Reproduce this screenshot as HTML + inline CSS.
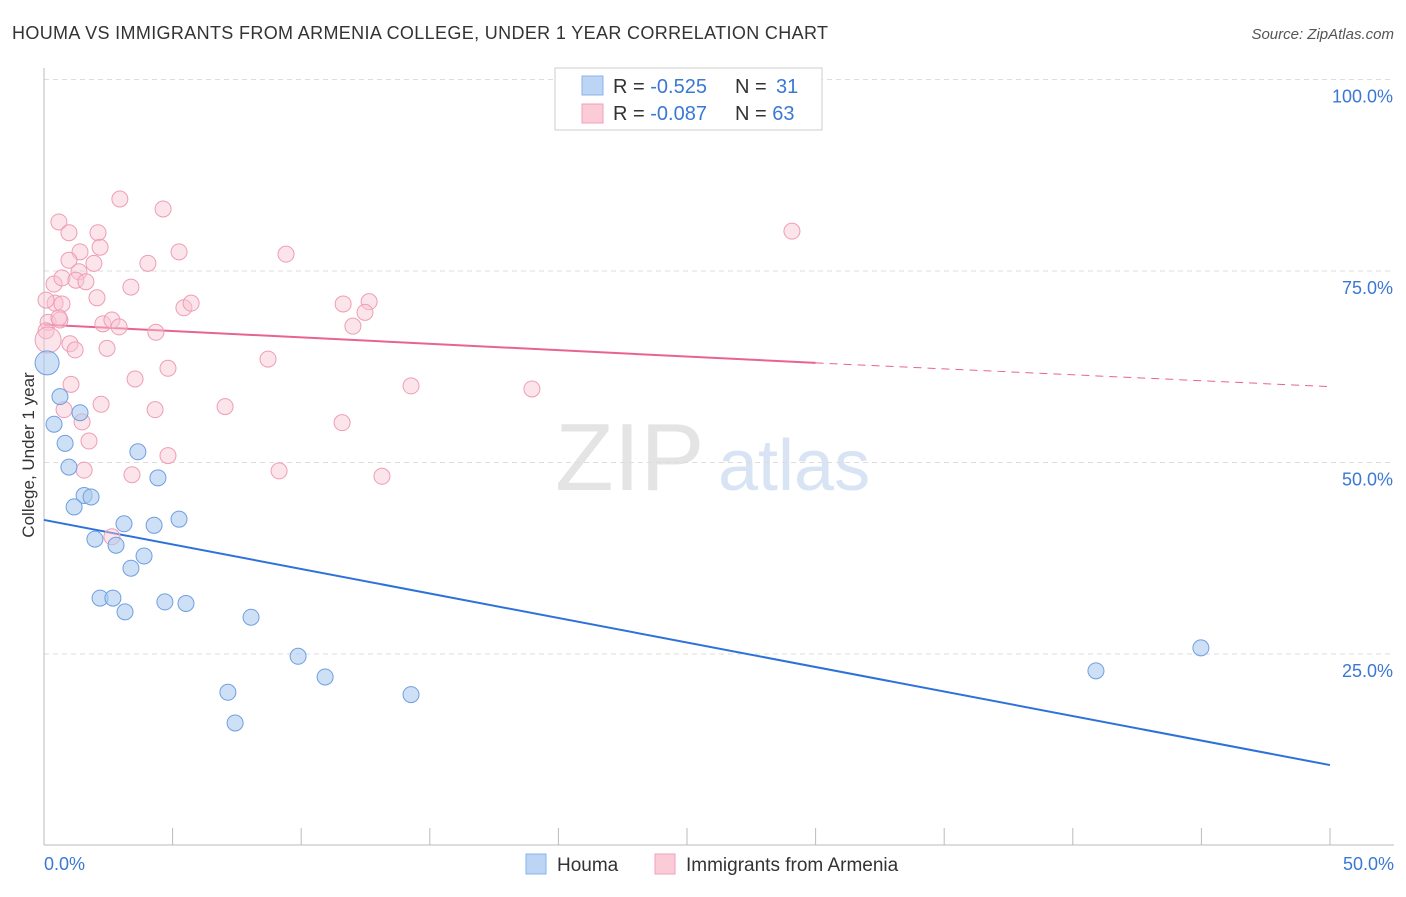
<!DOCTYPE html>
<html><head><meta charset="utf-8"><style>
body{margin:0;background:#fff;font-family:"Liberation Sans",sans-serif;}
svg text{font-family:"Liberation Sans",sans-serif;}
</style></head><body>
<svg id="chart" width="1406" height="892">
<text x="12" y="39" font-size="18" fill="#333" letter-spacing="0.35">HOUMA VS IMMIGRANTS FROM ARMENIA COLLEGE, UNDER 1 YEAR CORRELATION CHART</text>
<text x="1394" y="39" font-size="15" fill="#555" font-style="italic" text-anchor="end">Source: ZipAtlas.com</text>
<text x="555" y="490" font-size="96" fill="#e4e4e4" font-family="Liberation Serif">ZIP</text>
<text x="718" y="490" font-size="72" fill="#d8e4f4">atlas</text>
<g id="grid"></g><g id="axes"></g><g id="lines"></g><g id="points"></g>
<text transform="translate(34,455) rotate(-90)" font-size="17" fill="#333" text-anchor="middle">College, Under 1 year</text>
<g>
<rect x="555" y="68" width="267" height="62" fill="#fff" stroke="#ccc"/>
<rect x="582" y="76" width="21" height="19" fill="#bcd5f5" stroke="#8ab3ea"/>
<rect x="582" y="104" width="21" height="19" fill="#fbcbd8" stroke="#f0a0b8"/>
<text x="613" y="93" font-size="20" fill="#333">R = <tspan fill="#3a78d4">-0.525</tspan><tspan x="735">N = </tspan><tspan fill="#3a78d4" x="776">31</tspan></text>
<text x="613" y="120" font-size="20" fill="#333">R = <tspan fill="#3a78d4">-0.087</tspan><tspan x="735">N = </tspan><tspan fill="#3a78d4">63</tspan></text>
</g>
<g>
<rect x="526" y="854" width="20" height="20" fill="#bcd5f5" stroke="#8ab3ea"/>
<text x="557" y="871" font-size="19" fill="#333">Houma</text>
<rect x="655" y="854" width="20" height="20" fill="#fbcbd8" stroke="#f0a0b8"/>
<text x="686" y="871" font-size="19" fill="#333">Immigrants from Armenia</text>
</g>
</svg>
<script>
const yTicks=[25,50,75,100];
const yTickLabels=["25.0%","50.0%","75.0%","100.0%"];
const xEndLabels=["0.0%","50.0%"];
const houmaX=[0.12,0.62,0.39,0.82,0.97,1.40,1.56,1.17,1.83,1.98,2.80,3.11,2.18,2.68,3.15,3.38,3.89,3.65,4.43,4.28,5.25,4.70,5.52,8.05,9.88,10.93,7.15,7.43,14.27,40.90,44.98];
const houmaY=[63.0,58.6,55.0,52.5,49.4,56.5,45.7,44.2,45.5,40.0,39.2,42.0,32.3,32.3,30.5,36.2,37.8,51.4,48.0,41.8,42.6,31.8,31.6,29.8,24.7,22.0,20.0,16.0,19.7,22.8,25.8];
const armX=[0.58,0.97,2.10,2.95,4.63,1.40,2.18,0.97,1.94,4.04,5.25,9.41,0.39,0.70,1.36,1.24,1.63,3.38,2.06,0.43,0.70,0.08,0.16,0.62,0.08,0.58,2.29,2.64,2.92,4.35,5.44,5.72,11.63,12.64,12.48,12.01,1.01,1.21,2.45,1.05,3.54,4.82,8.71,0.78,1.48,2.22,4.32,7.04,1.75,4.82,1.56,3.42,9.14,11.59,13.14,14.27,18.97,29.08,2.64,0.16];
const armY=[81.4,80.0,80.0,84.4,83.1,77.5,78.1,76.4,76.0,76.0,77.5,77.2,73.3,74.1,74.9,73.8,73.6,72.9,71.5,70.8,70.7,71.2,68.3,68.6,67.2,68.9,68.1,68.6,67.7,67.0,70.2,70.8,70.7,71.0,69.6,67.8,65.5,64.7,64.9,60.2,60.9,62.3,63.5,56.9,55.3,57.6,56.9,57.3,52.8,50.9,49.0,48.4,48.9,55.2,48.2,60.0,59.6,80.2,40.3,66.0];
const houmaTrend=[42.5,10.5];
const armTrend=[68.0,63.0,59.9];
const sx=v=>44+v*25.72, sy=v=>845.5-v*7.66;
const NS="http://www.w3.org/2000/svg";
function mk(tag,attrs,parent){const e=document.createElementNS(NS,tag);for(const k in attrs)e.setAttribute(k,attrs[k]);document.getElementById(parent).appendChild(e);return e;}
yTicks.forEach((t,i)=>{
 const g=mk('line',{x1:44,x2:1394,y1:sy(t),y2:sy(t),stroke:'#ddd','stroke-dasharray':'5,4'},'grid');
 
 
 const l=mk('text',{x:1393,y:sy(t)+23,'font-size':18,fill:'#3a78d4','text-anchor':'end'},'grid');
 l.textContent=yTickLabels[i];
 
 
});
mk('line',{x1:44,x2:44,y1:68,y2:845,stroke:'#bbb'},'axes');
mk('line',{x1:44,x2:1394,y1:845,y2:845,stroke:'#bbb'},'axes');
for(let i=0;i<=10;i++){const t=mk('line',{x1:sx(i*5),x2:sx(i*5),y1:828,y2:845,stroke:'#bbb'},'axes');
 
 }
const xl0=mk('text',{x:44,y:870,'font-size':18,fill:'#3a78d4'},'axes');xl0.textContent=xEndLabels[0];


const xl1=mk('text',{x:1394,y:870,'font-size':18,fill:'#3a78d4','text-anchor':'end'},'axes');xl1.textContent=xEndLabels[1];


armX.forEach((x,i)=>{const c=mk('circle',{cx:sx(x),cy:sy(armY[i]),r:i===armX.length-1?13:8,fill:'#f9c4d3','fill-opacity':0.45,stroke:'#ee9db6','stroke-width':1},'points');
 
 });
houmaX.forEach((x,i)=>{const c=mk('circle',{cx:sx(x),cy:sy(houmaY[i]),r:i===0?12:8,fill:'#aecbf0','fill-opacity':0.6,stroke:'#6f9fe0','stroke-width':1},'points');
 
 });
const bl=mk('line',{x1:sx(0),y1:sy(houmaTrend[0]),x2:sx(50),y2:sy(houmaTrend[1]),stroke:'#2d72d9','stroke-width':2},'lines');


const pl=mk('line',{x1:sx(0),y1:sy(armTrend[0]),x2:sx(30),y2:sy(armTrend[1]),stroke:'#e8648f','stroke-width':2},'lines');


const pd=mk('line',{x1:sx(30),y1:sy(armTrend[1]),x2:sx(50),y2:sy(armTrend[2]),stroke:'#e8648f','stroke-width':1,'stroke-dasharray':'8,6'},'lines');


</script>
</body></html>
